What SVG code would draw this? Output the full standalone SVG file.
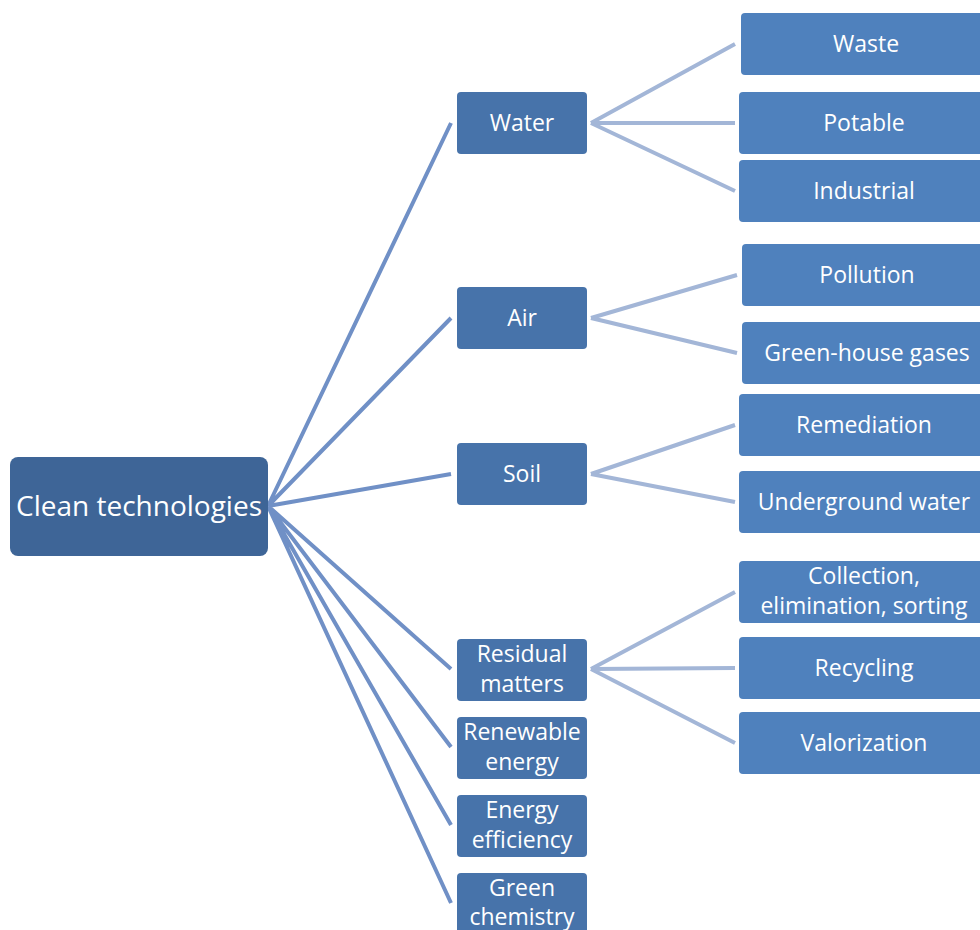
<svg xmlns="http://www.w3.org/2000/svg" width="980" height="930" viewBox="0 0 980 930">
<style>
.root{fill:#3e6597}
.l2{fill:#4773aa}
.l3{fill:#4f81bd}
.t{fill:#ffffff;font-family:"Open Sans","Liberation Sans",sans-serif;text-anchor:middle;font-size:23px}
.c1{stroke:#7090c6;stroke-width:4;fill:none}
.c2{stroke:#a3b6d7;stroke-width:4;fill:none}
</style>
<rect width="980" height="930" fill="#ffffff"/>
<g id="connectors">
<path class="c1" d="M268,506 L451,123 M268,506 L451,318 M268,506 L451,474 M268,506 L451,669 M268,506 L451,747 M268,506 L451,825 M268,506 L451,903"/>
<path class="c2" d="M591,123 L735,44 M591,123 L735,123 M591,123 L735,191 M591,318 L737,275 M591,318 L737,353 M591,474 L735,425 M591,474 L735,502 M591,669 L735,592 M591,669 L735,668 M591,669 L735,743"/>
</g>
<g id="root"><rect class="root" x="10" y="457" width="258" height="99" rx="8"/><text class="t" x="139" y="516" style="font-size:28px">Clean technologies</text></g>
<g id="water"><rect class="l2" x="457" y="92" width="130" height="62" rx="4"/><text class="t" x="522" y="131">Water</text></g>
<g id="air"><rect class="l2" x="457" y="287" width="130" height="62" rx="4"/><text class="t" x="522" y="326">Air</text></g>
<g id="soil"><rect class="l2" x="457" y="443" width="130" height="62" rx="4"/><text class="t" x="522" y="482">Soil</text></g>
<g id="residual"><rect class="l2" x="457" y="639" width="130" height="62" rx="4"/><text class="t" x="522" y="662">Residual</text><text class="t" x="522" y="692">matters</text></g>
<g id="renewable"><rect class="l2" x="457" y="717" width="130" height="62" rx="4"/><text class="t" x="522" y="740">Renewable</text><text class="t" x="522" y="770">energy</text></g>
<g id="efficiency"><rect class="l2" x="457" y="795" width="130" height="62" rx="4"/><text class="t" x="522" y="818">Energy</text><text class="t" x="522" y="848">efficiency</text></g>
<g id="chemistry"><rect class="l2" x="457" y="873" width="130" height="70" rx="4"/><text class="t" x="522" y="896">Green</text><text class="t" x="522" y="925">chemistry</text></g>
<g id="waste"><rect class="l3" x="741" y="13" width="250" height="62" rx="4"/><text class="t" x="866" y="52">Waste</text></g>
<g id="potable"><rect class="l3" x="739" y="92" width="250" height="62" rx="4"/><text class="t" x="864" y="131">Potable</text></g>
<g id="industrial"><rect class="l3" x="739" y="160" width="250" height="62" rx="4"/><text class="t" x="864" y="199">Industrial</text></g>
<g id="pollution"><rect class="l3" x="742" y="244" width="250" height="62" rx="4"/><text class="t" x="867" y="283">Pollution</text></g>
<g id="greenhouse"><rect class="l3" x="742" y="322" width="250" height="62" rx="4"/><text class="t" x="867" y="361">Green-house gases</text></g>
<g id="remediation"><rect class="l3" x="739" y="394" width="250" height="62" rx="4"/><text class="t" x="864" y="433">Remediation</text></g>
<g id="underground"><rect class="l3" x="739" y="471" width="250" height="62" rx="4"/><text class="t" x="864" y="510">Underground water</text></g>
<g id="collection"><rect class="l3" x="739" y="561" width="250" height="62" rx="4"/><text class="t" x="864" y="584">Collection,</text><text class="t" x="864" y="614">elimination, sorting</text></g>
<g id="recycling"><rect class="l3" x="739" y="637" width="250" height="62" rx="4"/><text class="t" x="864" y="676">Recycling</text></g>
<g id="valorization"><rect class="l3" x="739" y="712" width="250" height="62" rx="4"/><text class="t" x="864" y="751">Valorization</text></g>
</svg>
